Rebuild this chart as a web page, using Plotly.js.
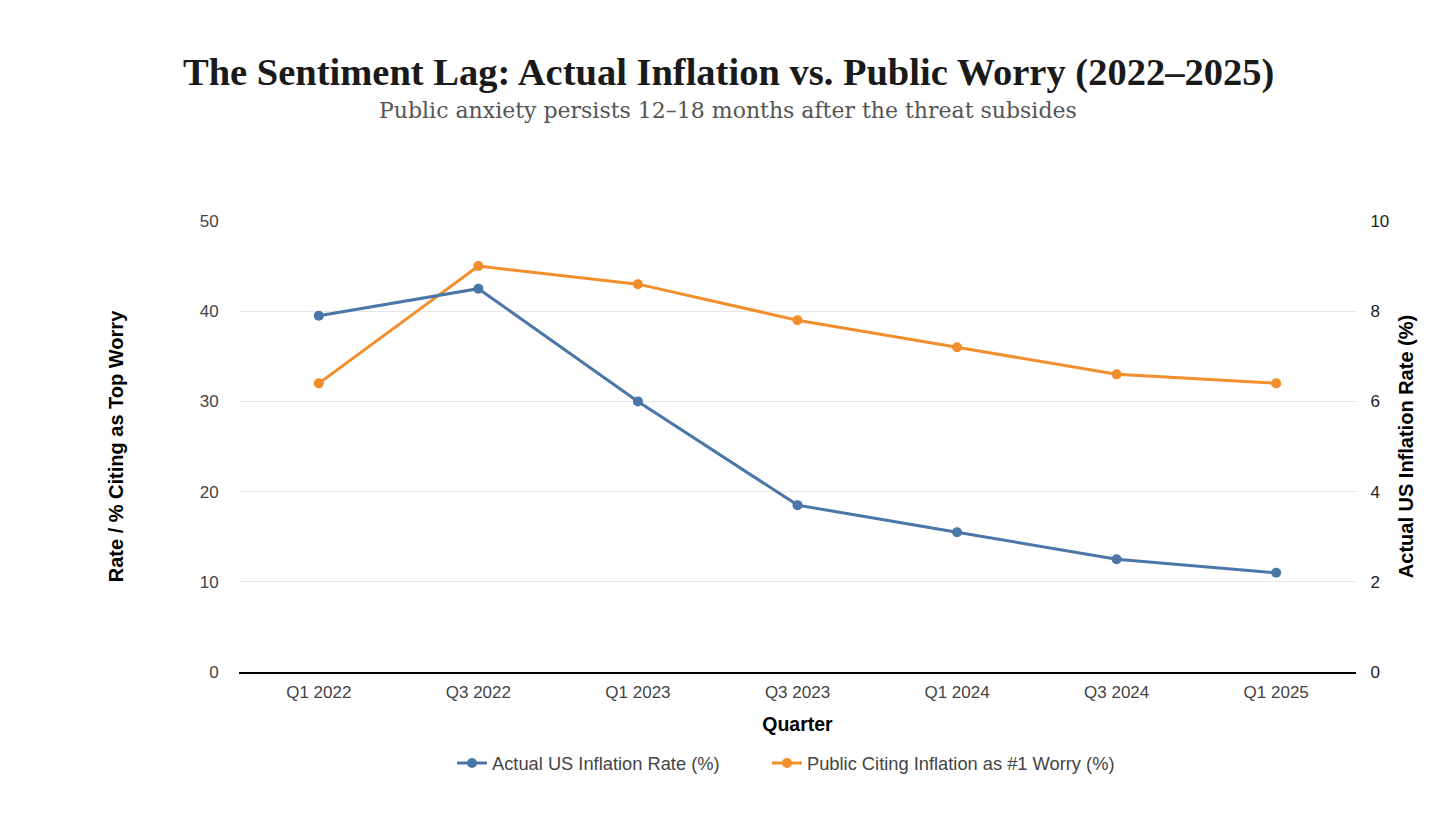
<!DOCTYPE html>
<html><head><meta charset="utf-8">
<script src="https://cdn.plot.ly/plotly-3.0.1.min.js"></script>
<style>html,body{margin:0;padding:0;background:#fff}#chart{width:1456px;height:819px}</style>
</head><body><div id="chart"></div>
<script>
const quarters = ["Q1 2022","Q3 2022","Q1 2023","Q3 2023","Q1 2024","Q3 2024","Q1 2025"];
const inflationRate = [7.9, 8.5, 6.0, 3.7, 3.1, 2.5, 2.2];
const publicWorry = [32, 45, 43, 39, 36, 33, 32];
const leftTicks = [0,10,20,30,40,50];
const rightTicks = [0,2,4,6,8,10];

const traces = [
  {x: quarters, y: inflationRate, name: "Actual US Inflation Rate (%)", yaxis: "y2", legend: "legend", type: "scatter", mode: "lines+markers",
   line: {color: "#4a76a8", width: 3}, marker: {color: "#4a76a8", size: 10}},
  {x: quarters, y: publicWorry, name: "Public Citing Inflation as #1 Worry (%)", yaxis: "y", legend: "legend2", type: "scatter", mode: "lines+markers",
   line: {color: "#f28e2b", width: 3}, marker: {color: "#f28e2b", size: 10}}
];

const legendFont = {size: 18.3, color: "#444"};
const layout = {
  width: 1456, height: 819,
  margin: {l: 239, r: 100, t: 221, b: 147},
  paper_bgcolor: "#fff", plot_bgcolor: "#fff",
  font: {family: "Liberation Sans, Arial, sans-serif", size: 17, color: "#444"},
  showlegend: true,
  legend: {orientation: "h", x: (452 - 239) / 1117, xanchor: "left", y: -0.202, yanchor: "middle", font: legendFont},
  legend2: {orientation: "h", x: (767 - 239) / 1117, xanchor: "left", y: -0.202, yanchor: "middle", font: legendFont},
  xaxis: {type: "category", range: [-0.5, 6.5], showgrid: false, showline: true, linecolor: "#000", linewidth: 1.5,
          ticks: "outside", ticklen: 4, tickcolor: "rgba(0,0,0,0)", tickfont: {size: 17, color: "#444"},
          title: {text: "<b>Quarter</b>", font: {size: 19.5, color: "#000"}, standoff: 16}},
  yaxis: {range: [0, 50], tickvals: leftTicks, gridcolor: "#e6e6e6", zeroline: false, showline: false,
          ticks: "outside", ticklen: 16, tickcolor: "rgba(0,0,0,0)",
          tickfont: {size: 17, color: "#444"},
          title: {text: "<b>Rate / % Citing as Top Worry</b>", font: {size: 20, color: "#000"}, standoff: 70}},
  yaxis2: {range: [0, 10], tickvals: rightTicks, overlaying: "y", side: "right", showgrid: false, zeroline: false,
          ticks: "outside", ticklen: 10, tickcolor: "rgba(0,0,0,0)",
          tickfont: {size: 17, color: "#222"},
          title: {text: "<b>Actual US Inflation Rate (%)</b>", font: {size: 20, color: "#000"}, standoff: 10}},
  annotations: [
    {text: "<b>The Sentiment Lag: Actual Inflation vs. Public Worry (2022–2025)</b>", xref: "paper", yref: "paper",
     x: 0.5, y: 72, xanchor: "center", yanchor: "middle", showarrow: false,
     font: {family: "Liberation Serif, serif", size: 38.5, color: "#1a1a1a"}},
    {text: "Public anxiety persists 12–18 months after the threat subsides", xref: "paper", yref: "paper",
     x: 0.5, y: 110, xanchor: "center", yanchor: "middle", showarrow: false,
     font: {family: "DejaVu Serif, serif", size: 22, color: "#555"}}
  ]
};
const plotH = layout.height - layout.margin.t - layout.margin.b;
const plotW = layout.width - layout.margin.l - layout.margin.r;
layout.annotations.forEach(a => {
  a.y = (layout.height - layout.margin.b - a.y) / plotH;
  a.x = (728 - layout.margin.l) / plotW;
});
Plotly.newPlot("chart", traces, layout, {displayModeBar: false, responsive: false});
</script></body></html>
